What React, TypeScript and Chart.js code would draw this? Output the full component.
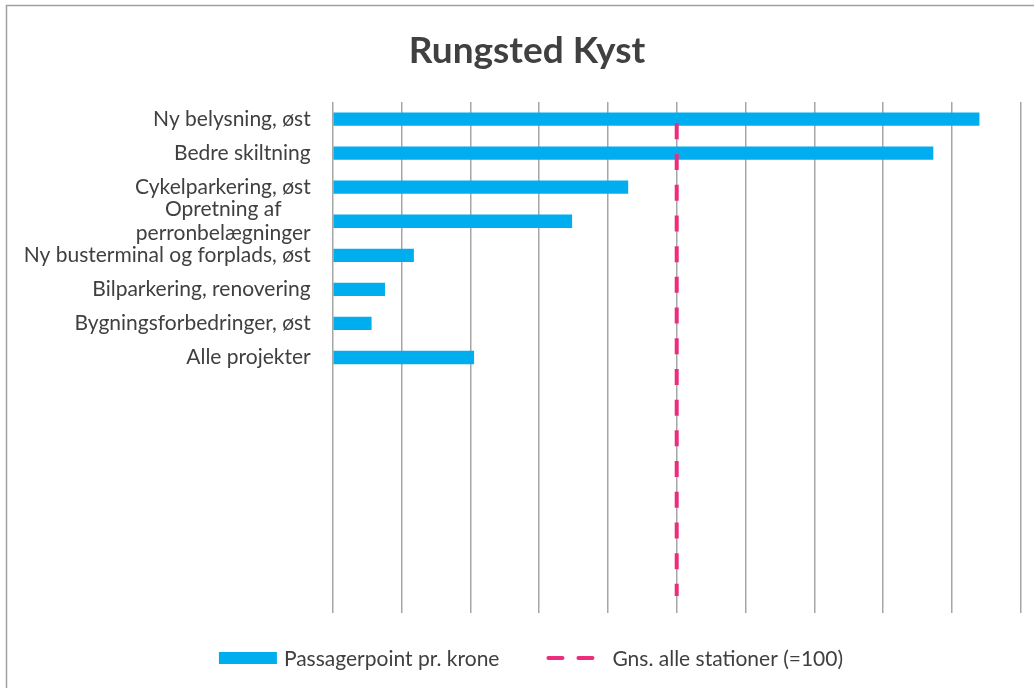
import React, { useEffect, useRef } from "react";
import { Chart, registerables } from "chart.js";

Chart.register(...registerables);

const TITLE = "Rungsted Kyst";

const CATEGORIES: (string | string[])[] = [
  "Ny belysning, øst",
  "Bedre skiltning",
  "Cykelparkering, øst",
  ["Opretning af", "perronbelægninger"],
  "Ny busterminal og forplads, øst",
  "Bilparkering, renovering",
  "Bygningsforbedringer, øst",
  "Alle projekter",
  "",
  "",
  "",
  "",
  "",
  "",
  "",
];

const BAR_LABEL = "Passagerpoint pr. krone";
const BAR_VALUES: (number | null)[] = [
  188.0, 174.6, 85.9, 69.6, 23.6, 15.2, 11.3, 41.1,
  null, null, null, null, null, null, null,
];

const AVG_LABEL = "Gns. alle stationer (=100)";
const AVG_VALUES: number[] = [
  100, 100, 100, 100, 100, 100, 100, 100, 100, 100, 100, 100, 100, 100, 100,
];

const X_MIN = 0;
const X_MAX = 200;
const X_STEP = 20;

const BLUE = "#00AEEF";
const PINK = "#EE2C7C";
const TEXT = "#404040";
const GRID = "#a6a6a6";
const FONT = "Lato, 'Open Sans', sans-serif";

const decorPlugin = {
  id: "decor",
  beforeDraw(chart: any) {
    const ctx = chart.ctx;
    ctx.save();
    ctx.fillStyle = "#ffffff";
    ctx.fillRect(0, 0, chart.width, chart.height);
    ctx.strokeStyle = "#a0a0a0";
    ctx.lineWidth = 1.5;
    ctx.strokeRect(6.5, 5.5, chart.width + 20, chart.height + 20);
    ctx.restore();
  },
  afterDraw(chart: any) {
    const ctx = chart.ctx;
    const yScale = chart.scales.y;
    ctx.save();

    // Title
    ctx.fillStyle = TEXT;
    ctx.font = `bold 37px ${FONT}`;
    ctx.textAlign = "center";
    ctx.textBaseline = "alphabetic";
    ctx.fillText(TITLE, 527, 63);

    // Category labels
    ctx.font = `21px ${FONT}`;
    ctx.textBaseline = "middle";
    ctx.textAlign = "center";
    const labelRight = chart.chartArea.left - 22;
    const lineH = 24;
    CATEGORIES.forEach((lab, i) => {
      const lines = Array.isArray(lab) ? lab : [lab];
      if (!lines.join("")) return;
      const maxW = Math.max(...lines.map((l) => ctx.measureText(l).width));
      const cx = labelRight - maxW / 2;
      const cy = yScale.getPixelForValue(i);
      lines.forEach((l, k) => {
        ctx.fillText(l, cx, cy + (k - (lines.length - 1) / 2) * lineH);
      });
    });

    // Legend
    const barDs = chart.data.datasets[1];
    const lineDs = chart.data.datasets[0];
    ctx.font = `21px ${FONT}`;
    ctx.textAlign = "left";
    const ly = 658;
    const t1 = ctx.measureText(barDs.label).width;
    const t2 = ctx.measureText(lineDs.label).width;
    const item1 = 58 + 7 + t1;
    const item2 = 48 + 18 + t2;
    const gapItems = 47;
    const total = item1 + gapItems + item2;
    let x = 531 - total / 2;
    ctx.fillStyle = barDs.backgroundColor;
    ctx.fillRect(x, ly - 6, 58, 12);
    ctx.fillStyle = TEXT;
    ctx.fillText(barDs.label, x + 65, ly + 1);
    x += item1 + gapItems;
    ctx.strokeStyle = lineDs.borderColor;
    ctx.lineWidth = 4;
    ctx.lineCap = "round";
    ctx.beginPath();
    ctx.moveTo(x + 2, ly);
    ctx.lineTo(x + 16, ly);
    ctx.moveTo(x + 32, ly);
    ctx.lineTo(x + 46, ly);
    ctx.stroke();
    ctx.fillStyle = TEXT;
    ctx.fillText(lineDs.label, x + 66, ly + 1);

    ctx.restore();
  },
};

export default function App() {
  const canvasRef = useRef<HTMLCanvasElement | null>(null);

  useEffect(() => {
    if (!canvasRef.current) return;
    const chart = new Chart(canvasRef.current, {
      type: "bar",
      data: {
        labels: CATEGORIES as any,
        datasets: [
          {
            type: "line",
            label: AVG_LABEL,
            data: AVG_VALUES,
            indexAxis: "y",
            borderColor: PINK,
            borderWidth: 4,
            borderDash: [16, 14.7],
            borderDashOffset: 26.4,
            borderCapStyle: "butt",
            pointRadius: 0,
            fill: false,
            order: 0,
          } as any,
          {
            type: "bar",
            label: BAR_LABEL,
            data: BAR_VALUES,
            backgroundColor: BLUE,
            categoryPercentage: 1,
            barPercentage: 0.39,
            order: 1,
          } as any,
        ],
      },
      options: {
        indexAxis: "y",
        responsive: false,
        animation: false,
        layout: { padding: { left: 332.7, right: 13.3, top: 102, bottom: 75 } },
        plugins: {
          legend: { display: false },
          title: { display: false },
          tooltip: { enabled: false },
        },
        scales: {
          x: {
            type: "linear",
            min: X_MIN,
            max: X_MAX,
            ticks: { display: false, stepSize: X_STEP },
            grid: { color: GRID, lineWidth: 1.5, drawTicks: false },
            border: { display: false },
          },
          y: {
            type: "category",
            display: false,
            offset: true,
            grid: { display: false },
          },
        },
      } as any,
      plugins: [decorPlugin],
    });
    return () => chart.destroy();
  }, []);

  return (
    <div style={{ position: "absolute", left: 0, top: 0, width: 1034, height: 688 }}>
      <canvas
        ref={canvasRef}
        width={1034}
        height={688}
        style={{ display: "block", width: 1034, height: 688 }}
      />
    </div>
  );
}
